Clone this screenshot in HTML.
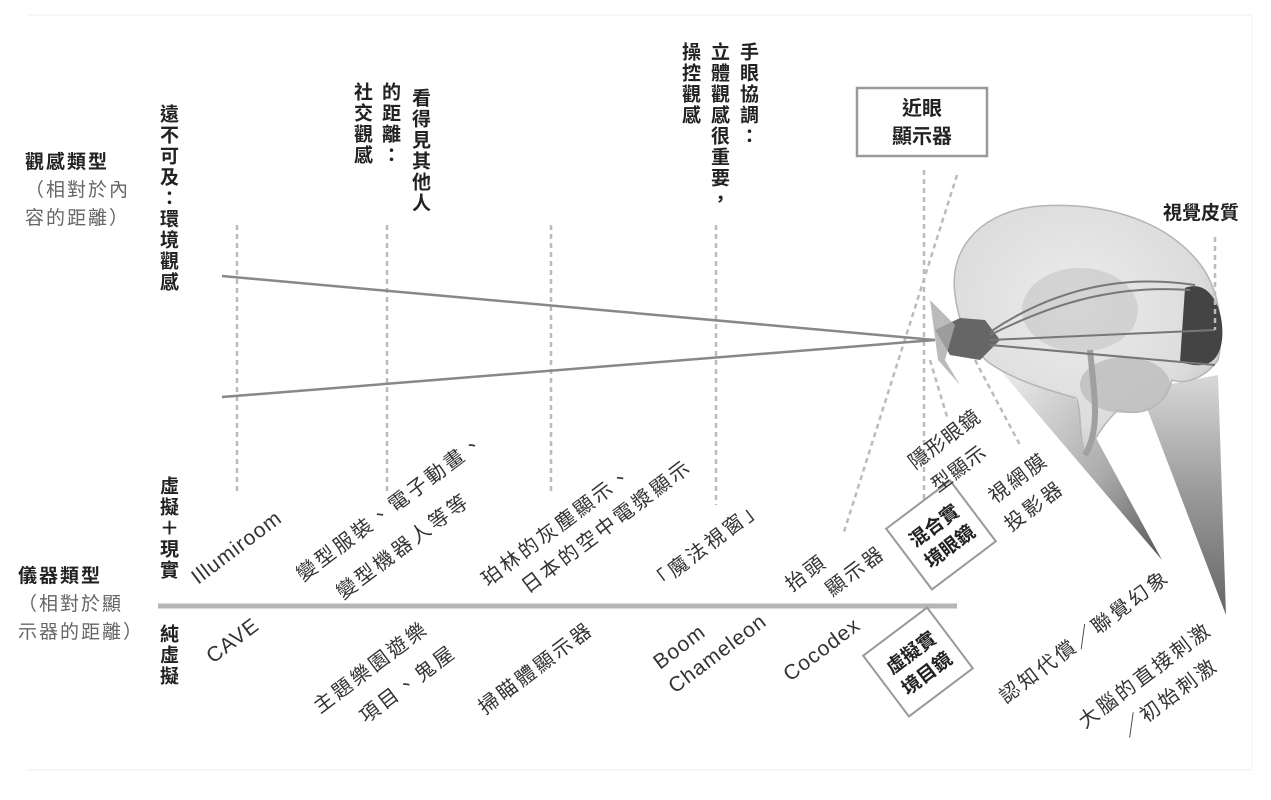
<!DOCTYPE html>
<html><head><meta charset="utf-8"><style>
html,body{margin:0;padding:0;background:#fff;}
body{width:1271px;height:800px;position:relative;overflow:hidden;font-family:"Liberation Sans","Noto Sans CJK TC",sans-serif;color:#222;}
.v{position:absolute;writing-mode:vertical-rl;font-size:19px;font-weight:bold;line-height:22px;letter-spacing:2px;color:#222;}
.h{position:absolute;font-size:19px;line-height:28px;letter-spacing:2px;}
.b{font-weight:bold;color:#222;}
.g{color:#666;}
</style></head><body>
<svg width="1271" height="800" style="position:absolute;left:0;top:0" font-family="Liberation Sans, Noto Sans CJK TC, sans-serif">
<defs>
<linearGradient id="tri" x1="0" y1="0" x2="0" y2="1"><stop offset="0" stop-color="#d8d8d8"/><stop offset="0.5" stop-color="#999"/><stop offset="1" stop-color="#666"/></linearGradient>
<linearGradient id="tri2" x1="0" y1="0" x2="1" y2="1"><stop offset="0" stop-color="#eee"/><stop offset="0.6" stop-color="#aaa"/><stop offset="1" stop-color="#555"/></linearGradient>
<radialGradient id="br" cx="0.45" cy="0.4" r="0.6"><stop offset="0" stop-color="#ececec"/><stop offset="0.8" stop-color="#dcdcdc"/><stop offset="1" stop-color="#cccccc"/></radialGradient>
</defs>
<line x1="28" y1="15" x2="1252" y2="15" stroke="#eee" stroke-width="1"/>
<line x1="28" y1="770" x2="1252" y2="770" stroke="#eee" stroke-width="1"/>
<line x1="1252" y1="15" x2="1252" y2="770" stroke="#f2f2f2" stroke-width="1"/>
<polygon points="1000,370 1070,390 1162,560" fill="url(#tri2)"/>
<polygon points="1140,390 1218,375 1226,615" fill="url(#tri)"/>
<path d="M955,295 C948,245 985,210 1040,206 C1100,202 1160,218 1195,258 C1220,285 1225,330 1218,360 C1205,378 1185,385 1172,380 C1165,405 1145,418 1118,410 C1102,425 1095,440 1085,455 C1078,430 1082,410 1076,398 C1040,388 1010,378 988,362 C968,345 958,320 955,295 Z" fill="url(#br)" stroke="#b5b5b5" stroke-width="1.5"/>
<ellipse cx="1080" cy="310" rx="58" ry="42" fill="#c4c4c4" opacity="0.6"/>
<ellipse cx="1125" cy="385" rx="45" ry="28" fill="#b8b8b8" opacity="0.7"/>
<path d="M1090,350 C1095,400 1100,430 1085,455" stroke="#a0a0a0" stroke-width="6" fill="none"/>
<path d="M1185,288 C1210,278 1225,310 1222,340 C1218,368 1200,368 1180,362 Z" fill="#444"/>
<path d="M935,330 L960,318 L985,320 L1000,340 L980,360 L950,355 Z" fill="#666"/>
<path d="M930,300 L955,325 L945,360 L960,385 L938,360 Z" fill="#aaa" opacity="0.8"/>
<g stroke="#777" stroke-width="2" fill="none">
<path d="M990,335 C1060,300 1120,285 1190,290"/>
<path d="M990,340 L1215,330"/>
<path d="M990,345 L1215,365"/>
<path d="M990,332 C1060,285 1130,275 1195,285"/>
</g>
<g stroke="#bbb" stroke-width="2.5" stroke-dasharray="5,4">
<line x1="237" y1="225" x2="237" y2="493"/>
<line x1="387" y1="225" x2="387" y2="493"/>
<line x1="551" y1="225" x2="551" y2="493"/>
<line x1="716" y1="225" x2="716" y2="505"/>
<line x1="924" y1="170" x2="924" y2="500"/>
<line x1="957" y1="175" x2="843" y2="535"/>
<line x1="930" y1="360" x2="948" y2="420"/>
<line x1="975" y1="360" x2="1020" y2="445"/>
<line x1="1215" y1="237" x2="1215" y2="330"/>
</g>
<line x1="222" y1="276" x2="935" y2="340" stroke="#888" stroke-width="2.5"/>
<line x1="222" y1="397" x2="935" y2="340" stroke="#888" stroke-width="2.5"/>
<line x1="158" y1="606" x2="957" y2="606" stroke="#b5b5b5" stroke-width="5"/>
<rect x="857" y="88" width="130" height="68" fill="#fff" stroke="#999" stroke-width="2.5"/>
<text x="922" y="115" font-size="20" font-weight="bold" text-anchor="middle" fill="#222">近眼</text>
<text x="922" y="143" font-size="20" font-weight="bold" text-anchor="middle" fill="#222">顯示器</text>
<text x="1163" y="219" font-size="19" font-weight="bold" fill="#222">視覺皮質</text>
<g transform="translate(941,535) rotate(-37)">
<rect x="-40" y="-38" width="80" height="76" fill="#fff" stroke="#999" stroke-width="2"/>
<text x="0" y="-5" font-size="19" font-weight="bold" text-anchor="middle" fill="#222">混合實</text>
<text x="0" y="21" font-size="19" font-weight="bold" text-anchor="middle" fill="#222">境眼鏡</text>
</g>
<g transform="translate(918,662) rotate(-37)">
<rect x="-40" y="-38" width="80" height="76" fill="#fff" stroke="#999" stroke-width="2"/>
<text x="0" y="-5" font-size="19" font-weight="bold" text-anchor="middle" fill="#222">虛擬實</text>
<text x="0" y="21" font-size="19" font-weight="bold" text-anchor="middle" fill="#222">境目鏡</text>
</g>
<g font-size="20" fill="#333" letter-spacing="3">
<text transform="translate(198,585) rotate(-37)" font-size="21" letter-spacing="1">Illumiroom</text>
<text transform="translate(303,582) rotate(-37)">變型服裝、電子動畫、</text>
<text transform="translate(343,600) rotate(-37)">變型機器人等等</text>
<text transform="translate(488,587) rotate(-37)">珀林的灰塵顯示、</text>
<text transform="translate(528,594) rotate(-37)">日本的空中電漿顯示</text>
<text transform="translate(656,592) rotate(-37)">「魔法視窗」</text>
<text transform="translate(792,592) rotate(-37)">抬頭</text>
<text transform="translate(832,597) rotate(-37)">顯示器</text>
<text transform="translate(915,470) rotate(-37)" letter-spacing="1">隱形眼鏡</text>
<text transform="translate(938,493) rotate(-37)" letter-spacing="1">型顯示</text>
<text transform="translate(995,504) rotate(-37)">視網膜</text>
<text transform="translate(1011,532) rotate(-37)">投影器</text>
<text transform="translate(213,664) rotate(-37)" font-size="21" letter-spacing="1">CAVE</text>
<text transform="translate(320,714) rotate(-37)">主題樂園遊樂</text>
<text transform="translate(366,724) rotate(-37)">項目、鬼屋</text>
<text transform="translate(485,715) rotate(-37)">掃瞄體顯示器</text>
<text transform="translate(660,670) rotate(-37)" font-size="21" letter-spacing="1">Boom</text>
<text transform="translate(675,694) rotate(-37)" font-size="21" letter-spacing="1">Chameleon</text>
<text transform="translate(790,682) rotate(-37)" font-size="21" letter-spacing="1">Cocodex</text>
<text transform="translate(1006,704) rotate(-37)">認知代償／聯覺幻象</text>
<text transform="translate(1085,729) rotate(-37)">大腦的直接刺激</text>
<text transform="translate(1128,737) rotate(-37)">／初始刺激</text>
</g>
</svg>
<div class="h" style="left:25px;top:149px"><span class="b">觀感類型</span><br><span class="g">（相對於內<br>容的距離）</span></div>
<div class="h" style="left:18px;top:563px"><span class="b">儀器類型</span><br><span class="g">（相對於顯<br>示器的距離）</span></div>
<div class="v" style="left:156px;top:104px">遠不可及：環境觀感</div>
<div class="v" style="left:408px;top:88px">看得見其他人</div>
<div class="v" style="left:378px;top:82px">的距離：</div>
<div class="v" style="left:350px;top:82px">社交觀感</div>
<div class="v" style="left:736px;top:42px">手眼協調：</div>
<div class="v" style="left:707px;top:42px">立體觀感很重要，</div>
<div class="v" style="left:678px;top:42px">操控觀感</div>
<div class="v" style="left:156px;top:476px">虛擬＋現實</div>
<div class="v" style="left:156px;top:624px">純虛擬</div>
</body></html>
